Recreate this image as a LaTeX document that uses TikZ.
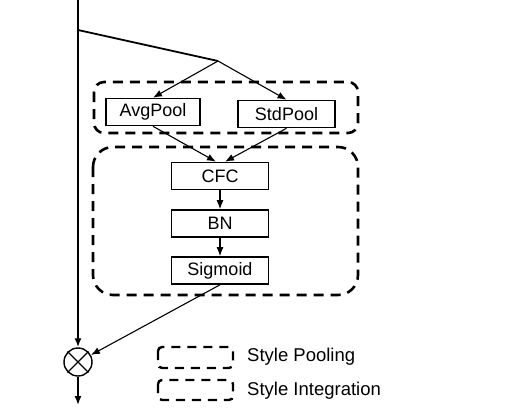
\documentclass[tikz,border=0pt]{standalone}
\usepackage{fontspec}
\setmainfont{Liberation Sans}
\usetikzlibrary{arrows.meta}
\begin{document}
\begin{tikzpicture}[x=1pt, y=-1pt,
    blk/.style={draw, line width=1.6pt, minimum width=97pt, minimum height=27pt, inner sep=0pt, font=\fontsize{18}{20}\selectfont},
    grp/.style={draw, line width=2.6pt, dash pattern=on 10pt off 7pt},
    lbl/.style={anchor=west, inner sep=0pt, font=\fontsize{18.5}{20}\selectfont},
    arr/.style={-{Latex[length=9pt, width=7pt]}, line width=1.1pt}]
    \useasboundingbox (0,0) rectangle (529,417);

    % ---- groups ----
    \draw[grp, rounded corners=10pt] (94,82) rectangle (358,133);
    \draw[grp, rounded corners=20pt] (93,147) rectangle (358,295);

    % ---- blocks ----
    \node[blk, minimum width=94pt] (avg) at (153,112) {AvgPool};
    \node[blk] (std) at (286.5,114) {StdPool};
    \node[blk] (cfc) at (220,176) {CFC};
    \node[blk] (bn) at (220,223.5) {BN};
    \node[blk] (sig) at (220,270.5) {Sigmoid};
    \node[circle, draw, line width=1.4pt, minimum size=28pt, inner sep=0pt] (mul) at (78,362) {};
    \draw[line width=1.1pt] (mul.45) -- (mul.225) (mul.135) -- (mul.315);

    \coordinate (top) at (78,0);
    \coordinate (tap) at (78,30);
    \coordinate (split) at (218,61);
    \coordinate (out) at (78,405);

    % ---- connectors ----
    \draw[arr, line width=1.8pt] (top) -- (mul);
    \draw[line width=1.8pt] (tap) -- (split);
    \draw[arr] (split) -- (avg.north);
    \draw[arr] (split) -- (std.north);
    \draw[arr] (avg.south) -- ([xshift=-4pt]cfc.north);
    \draw[arr] (std.south) -- ([xshift=5pt]cfc.north);
    \draw[arr] (cfc) -- (bn);
    \draw[arr] (bn) -- (sig);
    \draw[arr] (sig.south) -- (mul);
    \draw[arr, line width=1.4pt] (mul) -- (out);

    % ---- legend ----
    \draw[grp, line width=2.4pt, dash pattern=on 9pt off 7pt, rounded corners=4pt] (158,347) rectangle (233,368);
    \draw[grp, line width=2.4pt, dash pattern=on 9pt off 7pt, rounded corners=4pt] (158,380) rectangle (233,400);
    \node[lbl] (lp) at (247,357) {Style Pooling};
    \node[lbl] (li) at (247,391) {Style Integration};
\end{tikzpicture}
\end{document}
